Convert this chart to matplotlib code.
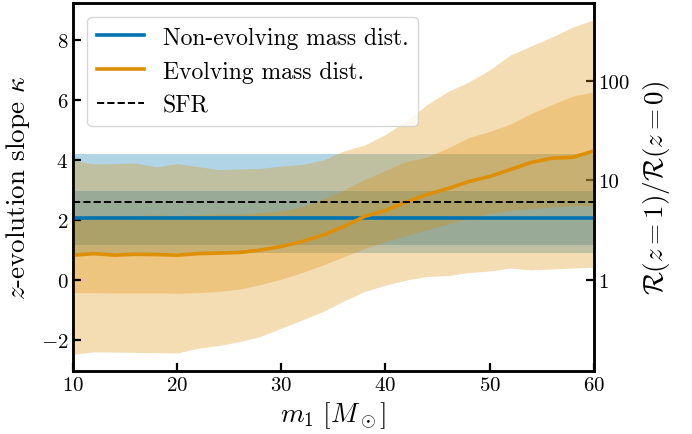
import numpy as np
import matplotlib

matplotlib.use("Agg")
import matplotlib.pyplot as plt

plt.rcParams["font.family"] = "serif"
plt.rcParams["font.serif"] = ["cmr10"]
plt.rcParams["mathtext.fontset"] = "cm"
plt.rcParams["axes.formatter.use_mathtext"] = True
plt.rcParams["axes.unicode_minus"] = True

BLUE = "#0173b2"
ORANGE = "#de8f05"

# primary mass grid
m1 = [10, 12, 14, 16, 18, 20, 22, 24, 26, 28, 30, 32, 34, 36, 38, 40,
      42, 44, 46, 48, 50, 52, 54, 56, 58, 60]

# evolving mass distribution: median and credible bands
kappa_evo_med = [0.83, 0.88, 0.83, 0.86, 0.85, 0.83, 0.88, 0.90, 0.92, 1.00,
                 1.12, 1.28, 1.50, 1.78, 2.12, 2.32, 2.60, 2.85, 3.05, 3.28,
                 3.45, 3.68, 3.92, 4.06, 4.09, 4.30]
kappa_evo_in_lo = [-0.42, -0.42, -0.43, -0.43, -0.43, -0.44, -0.42, -0.38, -0.30, -0.15,
                   0.03, 0.25, 0.50, 0.78, 1.05, 1.28, 1.48, 1.68, 1.86, 2.05,
                   2.22, 2.32, 2.38, 2.43, 2.47, 2.48]
kappa_evo_in_hi = [2.12, 2.15, 2.15, 2.15, 2.17, 2.15, 2.18, 2.20, 2.20, 2.25,
                   2.30, 2.45, 2.70, 3.00, 3.35, 3.65, 3.95, 4.10, 4.40, 4.75,
                   4.95, 5.20, 5.55, 5.85, 6.13, 6.27]
kappa_evo_out_lo = [-2.47, -2.39, -2.40, -2.41, -2.42, -2.43, -2.27, -2.18, -2.05, -1.88,
                    -1.60, -1.33, -1.05, -0.70, -0.38, -0.17, 0.00, 0.12, 0.15, 0.25,
                    0.30, 0.40, 0.34, 0.37, 0.40, 0.43]
kappa_evo_out_hi = [3.98, 3.87, 3.88, 3.90, 3.77, 3.88, 3.78, 3.68, 3.70, 3.72,
                    3.80, 3.85, 4.00, 4.30, 4.50, 4.85, 5.30, 5.85, 6.28, 6.60,
                    7.00, 7.50, 7.80, 8.10, 8.43, 8.67]

# non-evolving mass distribution (constant in m1)
kappa_const_med = 2.07
kappa_const_in = (1.17, 2.97)
kappa_const_out = (0.90, 4.20)

kappa_sfr = 2.61

ratio_ticks = [1, 10, 100]

fig = plt.figure(figsize=(6.92, 4.35), dpi=100)
ax = fig.add_axes([0.1055, 0.1448, 0.7525, 0.846])
ax2 = ax.twinx()
ax.set_zorder(ax2.get_zorder() + 1)
ax.patch.set_visible(False)

n = len(m1)
ax.fill_between(m1, [kappa_const_out[0]] * n, [kappa_const_out[1]] * n,
                color=BLUE, alpha=0.3, lw=0)
ax.fill_between(m1, [kappa_const_in[0]] * n, [kappa_const_in[1]] * n,
                color=BLUE, alpha=0.3, lw=0)

ax.fill_between(m1, kappa_evo_out_lo, kappa_evo_out_hi, color=ORANGE, alpha=0.3, lw=0)
ax.fill_between(m1, kappa_evo_in_lo, kappa_evo_in_hi, color=ORANGE, alpha=0.3, lw=0)

ax.plot(m1, [kappa_const_med] * n, color=BLUE, lw=2.6, label="Non-evolving mass dist.")
ax.plot(m1, kappa_evo_med, color=ORANGE, lw=2.6, label="Evolving mass dist.")
ax.axhline(kappa_sfr, color="k", ls="--", lw=1.4, label="SFR")

ax.set_xlim(10, 60)
ax.set_ylim(-3.03, 9.23)
ax.set_xlabel(r"$m_1\ [M_\odot]$", fontsize=19.5, labelpad=4)
ax.set_ylabel(r"$z$-evolution slope $\kappa$", fontsize=19.5, labelpad=6)
ax.tick_params(direction="in", labelsize=15, length=6, width=1.6, right=False, top=False)
for sp in ax.spines.values():
    sp.set_linewidth(1.8)

ax2.set_yscale("log")
lo, hi = ax.get_ylim()
ax2.set_ylim(2 ** lo, 2 ** hi)
ax2.set_yticks(ratio_ticks)
ax2.set_yticklabels([str(t) for t in ratio_ticks])
ax2.minorticks_off()
ax2.tick_params(direction="in", labelsize=15, length=6, width=1.6)
ax2.set_ylabel(r"$\mathcal{R}(z=1)/\mathcal{R}(z=0)$", fontsize=19.5, labelpad=8)
for sp in ax2.spines.values():
    sp.set_linewidth(1.8)

ax.legend(loc="upper left", fontsize=17, borderaxespad=0.6)

fig.savefig("out.png", dpi=100)
